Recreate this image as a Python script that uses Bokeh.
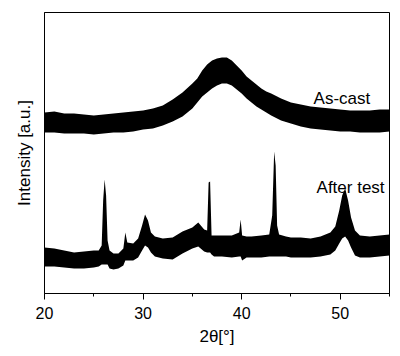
from bokeh.plotting import figure
from bokeh.models import Range1d, FixedTicker, Label
from bokeh.embed import file_html
from bokeh.resources import INLINE

# ---- data (2theta in degrees, intensity in a.u.) ----
ascast_x = [20, 21, 22, 23, 24, 25, 26, 27, 28, 29, 30, 31, 32, 33, 34, 35, 35.5, 36, 36.5, 37,
            37.5, 38, 38.5, 39, 39.5, 40, 40.5, 41, 41.5, 42, 42.5, 43, 44, 45, 46, 47, 48, 49,
            50, 51, 52, 53, 54, 55]
ascast_upper = [181, 182, 180, 180, 179, 178, 179, 180, 181, 182, 183, 185, 188, 194, 201, 210, 215,
                223, 229, 233, 235, 236, 236, 233, 228, 223, 217, 213, 209, 205, 202, 200, 195, 191,
                189, 187, 186, 185, 184, 183, 183, 183, 184, 184]
ascast_lower = [161, 161, 160, 160, 160, 159, 160, 161, 161, 162, 164, 165, 168, 172, 177, 185, 191,
                197, 201, 205, 208, 210, 210, 208, 204, 200, 195, 191, 187, 184, 181, 178, 173, 170,
                167, 165, 164, 163, 162, 162, 161, 161, 161, 162]

after_x = [20, 21, 22, 23, 24, 25, 25.5, 25.8, 25.95, 26.1, 26.25, 26.4, 26.6, 27, 27.5, 28, 28.2,
           28.4, 29, 29.5, 29.9, 30.2, 30.5, 30.8, 31.2, 32, 33, 34, 35, 35.6, 36.2, 36.5, 36.65,
           36.8, 36.95, 37.2, 38, 39, 39.75, 39.9, 40.05, 40.5, 41, 42, 42.8, 43.1, 43.3, 43.45,
           43.6, 43.8, 44.5, 45, 46, 47, 48, 49, 49.5, 49.9, 50.2, 50.5, 50.8, 51.1, 51.5, 52, 53,
           54, 55]
after_upper = [46, 45, 43, 41, 42, 43, 43, 48, 93, 114, 98, 53, 43, 40, 40, 45, 61, 51, 50, 55, 68,
               79, 73, 61, 57, 55, 56, 62, 66, 71, 64, 63, 111, 112, 58, 58, 58, 58, 61, 74, 58, 57,
               57, 58, 59, 78, 142, 128, 68, 59, 57, 56, 56, 55, 57, 61, 67, 83, 98, 105, 93, 76,
               63, 58, 57, 58, 59]
after_lower = [27, 27, 26, 25, 25, 26, 27, 29, 29, 29, 29, 29, 25, 24, 25, 28, 33, 33, 33, 36, 43,
               48, 46, 41, 37, 35, 34, 40, 45, 47, 42, 41, 41, 41, 39, 37, 37, 36, 37, 37, 33, 36,
               36, 36, 37, 37, 37, 37, 37, 37, 37, 36, 36, 36, 37, 39, 43, 50, 55, 57, 53, 46, 38,
               36, 36, 37, 38]

series_labels = ["As-cast", "After test"]
x_ticks = [20, 30, 40, 50]
x_minor = [25, 35, 45, 55]

FONT = "Liberation Sans"

p = figure(width=392, height=348, output_backend="svg", toolbar_location=None,
           x_range=Range1d(20, 55), y_range=Range1d(0, 281),
           min_border_left=44, min_border_right=3, min_border_top=12, min_border_bottom=55)
p.background_fill_color = "white"
p.border_fill_color = "white"
p.grid.visible = False
p.outline_line_color = "black"
p.outline_line_width = 1

p.varea(x=ascast_x, y1=ascast_lower, y2=ascast_upper, fill_color="black")
p.varea(x=after_x, y1=after_lower, y2=after_upper, fill_color="black")

xa = p.xaxis[0]
xa.ticker = FixedTicker(ticks=x_ticks, minor_ticks=x_minor)
xa.major_tick_out = 6
xa.major_tick_in = 0
xa.minor_tick_out = 3
xa.minor_tick_in = 0
xa.axis_line_color = "black"
xa.major_tick_line_color = "black"
xa.minor_tick_line_color = "black"
xa.major_label_text_font = FONT
xa.major_label_text_font_size = "16px"
xa.major_label_text_color = "black"
xa.major_label_standoff = 7
xa.axis_label = "2θ[°]"
xa.axis_label_text_font = FONT
xa.axis_label_text_font_size = "17px"
xa.axis_label_text_font_style = "normal"
xa.axis_label_text_color = "black"
xa.axis_label_standoff = 5

ya = p.yaxis[0]
ya.ticker = FixedTicker(ticks=[])
ya.major_tick_line_color = None
ya.minor_tick_line_color = None
ya.axis_line_color = "black"
ya.axis_label = "Intensity [a.u.]"
ya.axis_label_text_font = FONT
ya.axis_label_text_font_size = "17px"
ya.axis_label_text_font_style = "normal"
ya.axis_label_text_color = "black"
ya.axis_label_standoff = 11

p.add_layout(Label(x=47.3, y=195, text=series_labels[0], text_font=FONT, text_font_size="17px",
                   text_baseline="alphabetic", text_color="black"))
p.add_layout(Label(x=47.6, y=106, text=series_labels[1], text_font=FONT, text_font_size="17px",
                   text_baseline="alphabetic", text_color="black"))

open("out.html", "w").write(file_html(p, INLINE))
